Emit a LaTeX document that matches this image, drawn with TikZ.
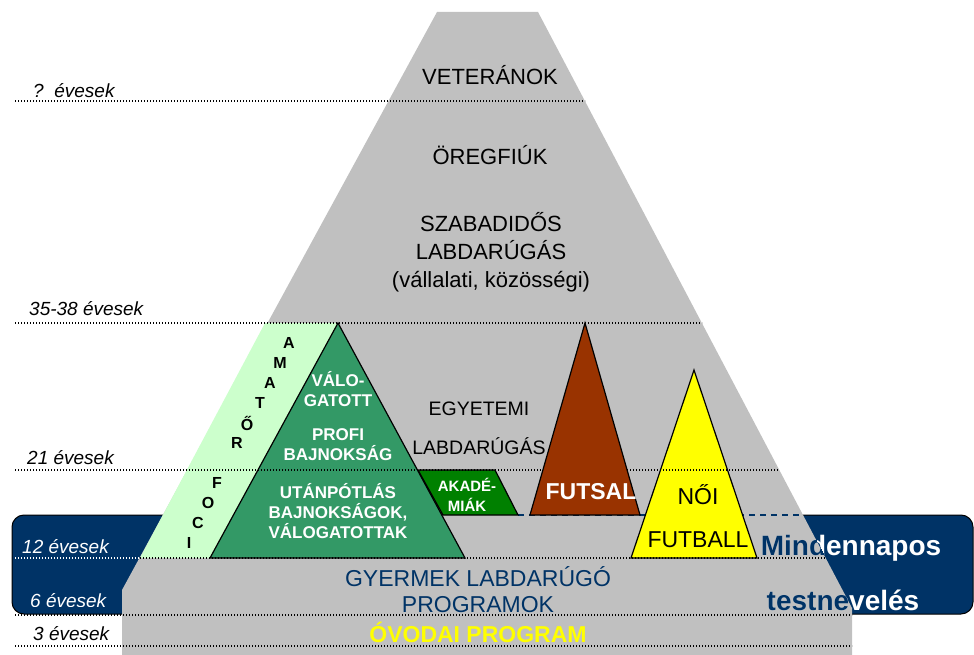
\documentclass[tikz,border=0pt]{standalone}
\usepackage{fontspec}
\setmainfont{Liberation Sans}
\definecolor{gry}{HTML}{C0C0C0}
\definecolor{navy}{HTML}{003366}
\definecolor{lgreen}{HTML}{CCFFCC}
\definecolor{dgreen}{HTML}{339966}
\definecolor{agreen}{HTML}{008000}
\definecolor{futs}{HTML}{993300}
\definecolor{yell}{HTML}{FFFF00}
\begin{document}
\begin{tikzpicture}[x=1pt,y=-1pt,
  age/.style={anchor=west, inner sep=0pt, font=\itshape\fontsize{19}{19}\selectfont},
  dotln/.style={line width=1.2pt, dash pattern=on 1pt off 2pt},
  shp/.style={draw=black, line width=1.2pt, line join=miter},
  big/.style={inner sep=0pt, align=center, font=\fontsize{22}{28}\selectfont},
  wtxt/.style={inner sep=0pt, align=center, text=white, font=\bfseries\fontsize{17}{20}\selectfont},
  ltr/.style={inner sep=0pt, font=\bfseries\fontsize{16}{16}\selectfont},
  mtxt/.style={inner sep=0pt, font=\bfseries\fontsize{28}{28}\selectfont}]
\useasboundingbox (0,0) rectangle (974,655);
% blue band and grey pyramid
\draw[fill=navy, line width=1pt, rounded corners=12pt] (12,515) rectangle (973,614);
\fill[gry] (437,12) -- (538,12) -- (852,608) -- (852,655) -- (122,655) -- (122,590) -- cycle;
\coordinate (ds0) at (518,515);
\coordinate (ds1) at (803,515);
\draw[navy, line width=1.2pt, dash pattern=on 6pt off 5pt] (ds0) -- (ds1);
% amator, national, academies, womens
\fill[lgreen] (265,323) -- (338,323) -- (215,558) -- (140,558) -- cycle;
\draw[shp, fill=dgreen] (338,323) -- (465,558) -- (210,558) -- cycle;
\draw[shp, fill=agreen] (418,470) -- (495,470) -- (518,515) -- (443,515) -- cycle;
\draw[shp, fill=yell] (694,370) -- (757,558) -- (631,558) -- cycle;
% age lines
\coordinate (ln0a) at (15,101);  \coordinate (ln0b) at (585,101);
\coordinate (ln1a) at (15,323);  \coordinate (ln1b) at (702,323);
\coordinate (ln2a) at (15,470);  \coordinate (ln2b) at (779,470);
\coordinate (ln3a) at (15,558);  \coordinate (ln3m) at (140,558); \coordinate (ln3b) at (826,558);
\coordinate (ln4a) at (15,615);  \coordinate (ln4b) at (852,615);
\coordinate (ln5a) at (15,646);  \coordinate (ln5b) at (852,646);
\draw[dotln](ln0a) -- (ln0b);
\draw[dotln](ln1a) -- (ln1b);
\draw[dotln](ln2a) -- (ln2b);
\draw[dotln, white](ln3a) -- (ln3m);
\draw[dotln](ln3m) -- (ln3b);
\draw[dotln](ln4a) -- (ln4b);
\draw[dotln](ln5a) -- (ln5b);
\draw[shp, fill=futs] (585,323) -- (640,515) -- (530,515) -- cycle;
% age labels
\node[age] (age0) at (33,91) {?\ \ évesek};
\node[age] (age1) at (29,309) {35-38 évesek};
\node[age] (age2) at (27,458) {21 évesek};
\node[age, text=white] (age3) at (22,547) {12 évesek};
\begin{scope}
\clip (0,515) rectangle (120,606);
\node[age, text=white] (age4) at (30,601) {6 évesek};
\end{scope}
\node[age] (age5) at (33,634) {3 évesek};
% grey texts
\node[big] (vet) at (490,75) {VETERÁNOK};
\node[big] (oreg) at (490,155) {ÖREGFIÚK};
\node[big] (szab) at (491,252) {SZABADIDŐS\\LABDARÚGÁS\\(vállalati, közösségi)};
\node[big, font=\fontsize{19.5}{39}\selectfont] (egy) at (479,428) {EGYETEMI\\LABDARÚGÁS};
\node[big, text=navy, font=\fontsize{23}{26}\selectfont] (gyer) at (478,590) {GYERMEK LABDARÚGÓ\\PROGRAMOK};
\node[big, text=yell, font=\bfseries\fontsize{23}{23}\selectfont] (ovi) at (478,632) {ÓVODAI PROGRAM};
% green pyramid texts
\node[wtxt] (val) at (338,389) {VÁLO-\\GATOTT};
\node[wtxt] (prof) at (338,445) {PROFI\\BAJNOKSÁG};
\node[wtxt] (utan) at (338,511) {UTÁNPÓTLÁS\\BAJNOKSÁGOK,\\VÁLOGATOTTAK};
\node[wtxt, font=\bfseries\fontsize{15}{20}\selectfont] (akad) at (467,495) {AKADÉ-\\MIÁK};
\node[ltr] (am0) at (289,343) {A};
\node[ltr] (am1) at (280,363) {M};
\node[ltr] (am2) at (270,383) {A};
\node[ltr] (am3) at (260,403) {T};
\node[ltr] (am4) at (247,423) {Ő};
\node[ltr] (am5) at (237,443) {R};
\node[ltr] (am7) at (217,483) {F};
\node[ltr] (am8) at (208,503) {O};
\node[ltr] (am9) at (198,523) {C};
\node[ltr] (am10) at (189,543) {I};
% futsal, womens
\node[wtxt, font=\bfseries\fontsize{23}{23}\selectfont] (fut) at (591,492) {FUTSAL};
\node[big, font=\fontsize{23}{43}\selectfont] (noi) at (698,516) {NŐI\\FUTBALL};
% everyday PE
\node[mtxt, text=white] (mind0) at (851,548) {Mindennapos};
\node[mtxt, text=white] (test0) at (843,600) {testnevelés};
\begin{scope}
\clip (437,12) -- (538,12) -- (852,608) -- (852,655) -- (122,655) -- (122,590) -- cycle;
\node[mtxt, text=navy] (mind1) at (851,548) {Mindennapos};
\node[mtxt, text=navy] (test1) at (843,600) {testnevelés};
\end{scope}
\end{tikzpicture}
\end{document}
